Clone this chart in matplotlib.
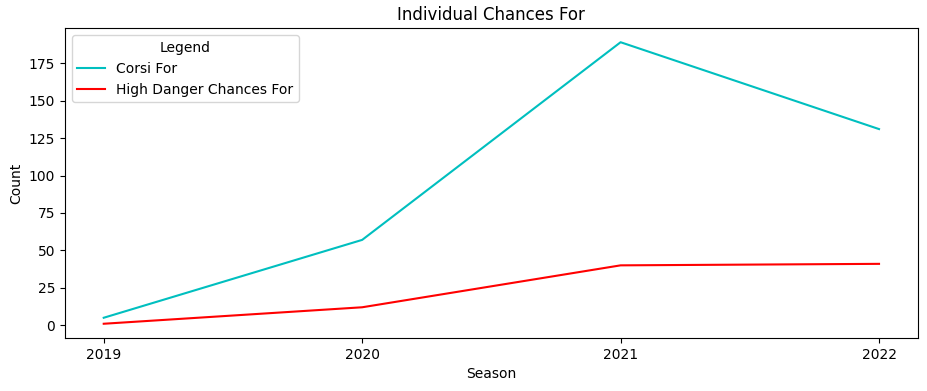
import matplotlib
matplotlib.use("Agg")
import matplotlib.pyplot as plt

seasons = ["2019", "2020", "2021", "2022"]
corsi_for = [5, 57, 189, 131]
hd_chances_for = [1, 12, 40, 41]

fig, ax = plt.subplots(figsize=(9.28, 3.91), dpi=100)
fig.subplots_adjust(left=0.070, right=0.989, top=0.928, bottom=0.136)

ax.plot(seasons, corsi_for, color="c", label="Corsi For")
ax.plot(seasons, hd_chances_for, color="r", label="High Danger Chances For")

ax.set_title("Individual Chances For")
ax.set_xlabel("Season")
ax.set_ylabel("Count")
ax.legend(title="Legend", loc="upper left")

fig.savefig("out.png", dpi=100)
